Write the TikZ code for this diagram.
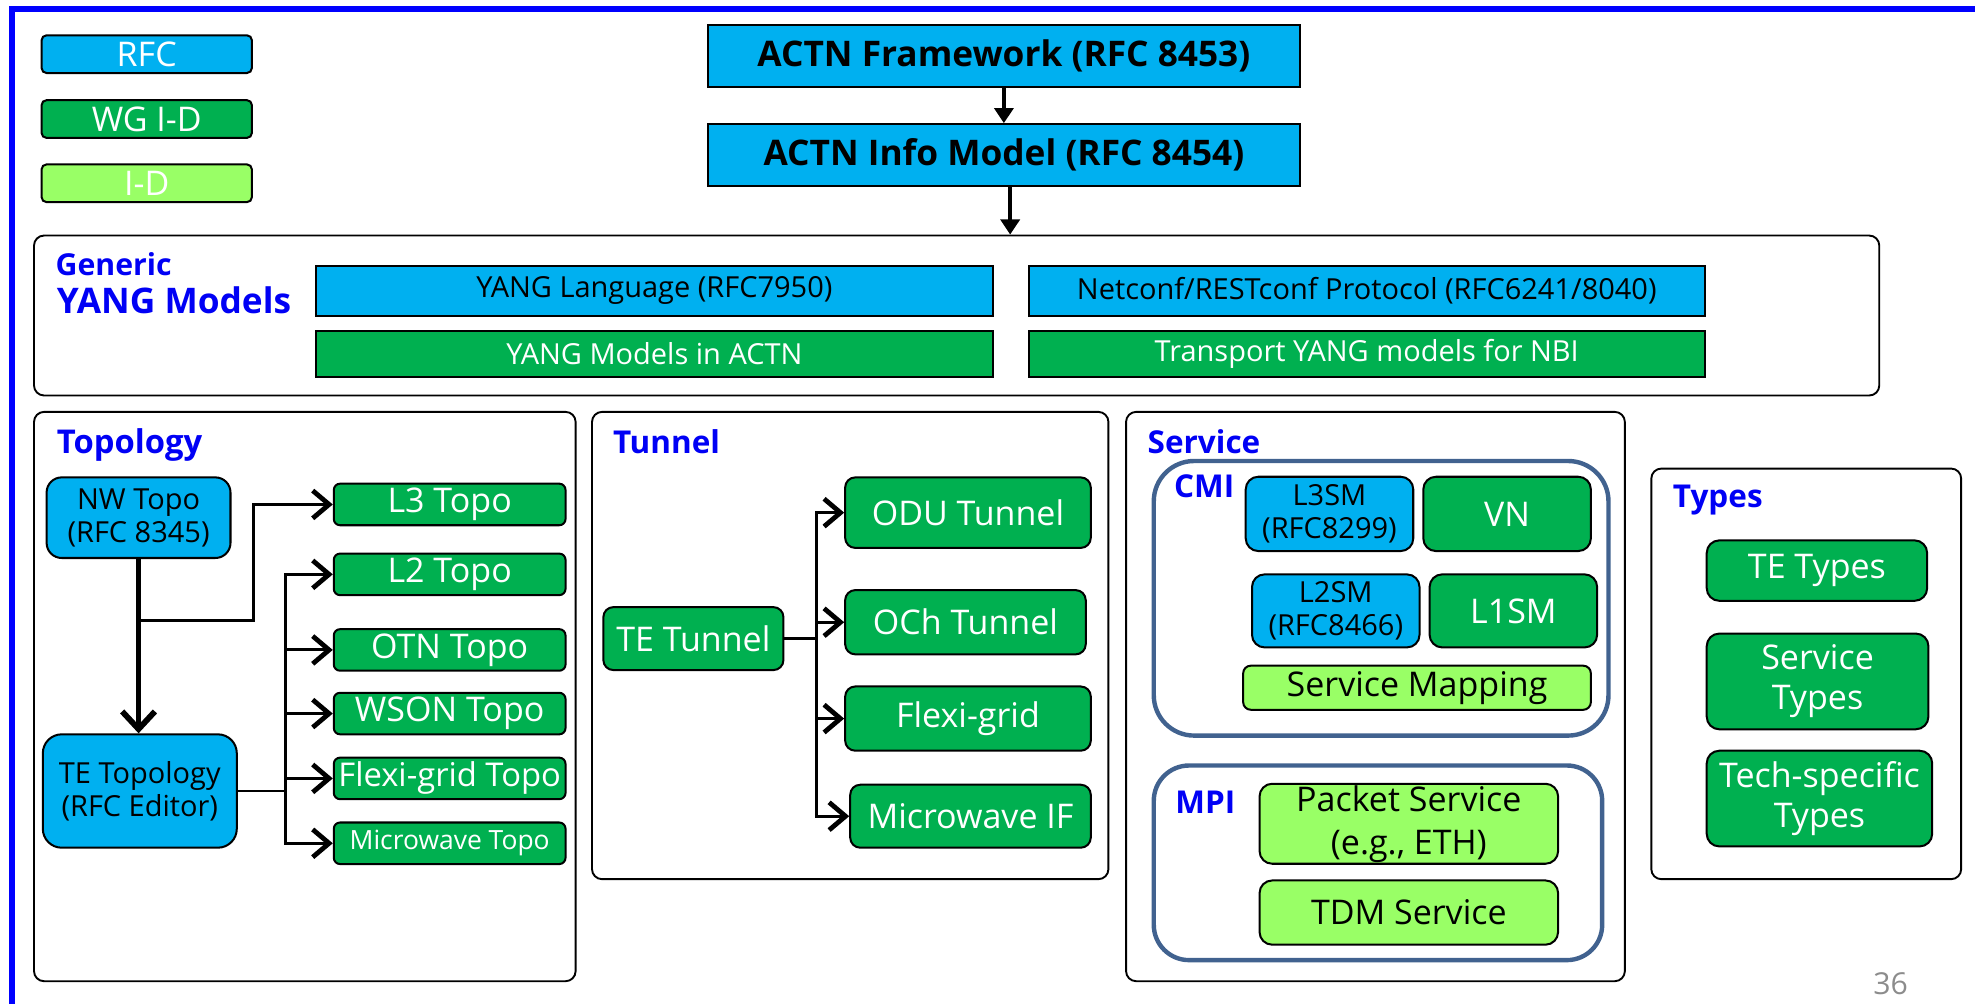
\documentclass[tikz,border=0pt]{standalone}
\usepackage{fontspec}
\setmainfont{Open Sans}
\usetikzlibrary{arrows.meta,positioning}
\definecolor{RFCblue}{RGB}{0,176,240}
\definecolor{WGgreen}{RGB}{0,176,80}
\definecolor{IDgreen}{RGB}{153,255,102}
\definecolor{Headblue}{RGB}{0,0,245}
\definecolor{Frameblue}{RGB}{0,0,255}
\definecolor{Ifblue}{RGB}{65,98,143}
\definecolor{Pagegrey}{RGB}{140,140,140}

\begin{document}
\begin{tikzpicture}[x=1pt, y=-1pt,
  every node/.style={inner sep=0pt, align=center, font=\fontsize{27}{32}\selectfont},
  b/.style={draw, line width=1.6pt, rounded corners=8pt},
  rfc/.style={b, fill=RFCblue},
  wg/.style={b, fill=WGgreen, text=white},
  idr/.style={b, fill=IDgreen},
  grp/.style={draw, line width=1.5pt, rounded corners=8pt},
  itf/.style={draw=Ifblue, line width=3.5pt, rounded corners=#1},
  hd/.style={anchor=base west, text=Headblue, font=\fontsize{25}{25}\selectfont\bfseries},
  sm/.style={font=\fontsize{23}{26}\selectfont},
  tp/.style={wg, rounded corners=5pt, minimum width=184, minimum height=33},
  ar/.style={line width=2.4pt, -{Straight Barb[length=13pt,width=22pt,line width=3.8pt]}},
  ]
\useasboundingbox (0,0) rectangle (1568,797);
\draw[Frameblue, line width=4.5pt] (9.7,800) -- (9.7,7.3) -- (1572,7.3);

% legend
\node[rfc, text=white, rounded corners=4pt, minimum width=167, minimum height=30] (lrfc) at (116.5,43) {RFC};
\node[wg, rounded corners=4pt, minimum width=167, minimum height=30] (lwg) at (116.5,94.5) {WG I-D};
\node[idr, text=white, rounded corners=4pt, minimum width=167, minimum height=30] (lid) at (116.5,145.5) {I-D};

% ACTN
\node[rfc, sharp corners, minimum width=470, minimum height=49, font=\fontsize{28}{28}\selectfont\bfseries] (fw) at (797,44.5) {ACTN Framework (RFC 8453)};
\node[rfc, sharp corners, minimum width=470, minimum height=49, font=\fontsize{28}{28}\selectfont\bfseries, below=28pt of fw] (im) {ACTN Info Model (RFC 8454)};

% generic YANG models
\node[grp, minimum width=1465, minimum height=127] (gen) at (759.5,250.5) {};
\node[hd, font=\fontsize{24}{24}\selectfont\bfseries] (lgen) at (44,219) {Generic};
\node[hd, font=\fontsize{28}{28}\selectfont\bfseries] (lyang) at (45,249) {YANG Models};
\node[rfc, sharp corners, sm, minimum width=537, minimum height=39.5] (yl) at (519.5,231) {YANG Language (RFC7950)};
\node[rfc, sharp corners, sm, minimum width=537, minimum height=39.5, right=27pt of yl] (nc) {Netconf/RESTconf Protocol (RFC6241/8040)};
\node[wg, sharp corners, sm, minimum width=537, minimum height=36] (ym) at (519.5,281) {YANG Models in ACTN};
\node[wg, sharp corners, sm, minimum width=537, minimum height=36, right=27pt of ym] (tr) {Transport YANG models for NBI};

\draw[line width=3.5pt, -{Triangle[length=12pt,width=15pt]}] (fw) -- (im);
\draw[line width=3.5pt, -{Triangle[length=12pt,width=15pt]}] ([xshift=5pt]im.south) -- ([xshift=5pt]im.south |- gen.north);

% topology
\node[grp, minimum width=430, minimum height=452] (topo) at (242,553) {};
\node[hd, font=\fontsize{26}{26}\selectfont\bfseries] (ltopo) at (45,360) {Topology};
\node[rfc, sm, rounded corners=12pt, minimum width=146, minimum height=64] (nw) at (110,411) {NW Topo\\(RFC 8345)};
\node[rfc, sm, rounded corners=15pt, minimum width=154, minimum height=90] (tet) at (111,628) {TE Topology\\(RFC Editor)};
\node[tp] (l3) at (357,400.5) {L3 Topo};
\node[tp] (l2) at (357,456) {L2 Topo};
\node[tp] (otn) at (357,516) {OTN Topo};
\node[tp] (wson) at (357,566.5) {WSON Topo};
\node[tp, font=\fontsize{26}{26}\selectfont] (flx) at (357,618) {Flexi-grid Topo};
\node[tp, font=\fontsize{21}{21}\selectfont] (mw) at (357,669.5) {Microwave Topo};

\coordinate (nwj) at (111,493);
\coordinate (tb1) at (201,493);
\coordinate (tb2) at (227,628);
\draw[line width=4pt, -{Straight Barb[length=14pt,width=26pt,line width=4.6pt]}] (nw.south) -- (nw.south |- tet.north);
\draw[ar] (nwj) -- (tb1) |- (l3);
\draw[line width=2.2pt] (tet) -- (tb2);
\draw[ar] (tb2) |- (l2);
\draw[ar] (tb2) |- (otn);
\draw[ar] (tb2) |- (wson);
\draw[ar] (tb2) |- (flx);
\draw[ar] (tb2) |- (mw);

% tunnel
\node[grp, minimum width=410, minimum height=371] (tun) at (675,512.5) {};
\node[hd] (ltun) at (486.5,360) {Tunnel};
\node[wg, minimum width=143, minimum height=50] (tt) at (550.5,507) {TE Tunnel};
\node[wg, minimum width=195, minimum height=56] (odu) at (768.5,407) {ODU Tunnel};
\node[wg, minimum width=191, minimum height=51] (och) at (766.5,494) {OCh Tunnel};
\node[wg, minimum width=195, minimum height=51] (flex) at (768.5,570.5) {Flexi-grid};
\node[wg, minimum width=191, minimum height=50] (mwif) at (770.5,648) {Microwave IF};

\coordinate (nb) at (648,507);
\draw[line width=2.2pt] (tt) -- (nb);
\draw[ar] (nb) |- (odu);
\draw[ar] (nb) |- (och);
\draw[ar] (nb) |- (flex);
\draw[ar] (nb) |- (mwif);

% service
\node[grp, minimum width=396, minimum height=452] (svc) at (1092,553) {};
\node[hd] (lsvc) at (911,360) {Service};
\node[itf=32pt, minimum width=361, minimum height=218] (cmi) at (1096.5,475) {};
\node[hd] (lcmi) at (932,394.7) {CMI};
\node[rfc, sm, rounded corners=10pt, minimum width=133, minimum height=59] (l3sm) at (1055.5,408) {L3SM\\(RFC8299)};
\node[wg, rounded corners=10pt, minimum width=133, minimum height=59] (vn) at (1196.5,408) {VN};
\node[rfc, sm, rounded corners=10pt, minimum width=133, minimum height=58] (l2sm) at (1060.5,485) {L2SM\\(RFC8466)};
\node[wg, rounded corners=10pt, minimum width=133, minimum height=58] (l1sm) at (1201.5,485) {L1SM};
\node[idr, rounded corners=6pt, minimum width=276, minimum height=35] (smap) at (1125,546) {Service Mapping};
\node[itf=28pt, minimum width=356, minimum height=154.5] (mpi) at (1094,685) {};
\node[hd] (lmpi) at (933,646) {MPI};
\node[idr, rounded corners=10pt, minimum width=237, minimum height=63.5, font=\fontsize{27}{34}\selectfont] (pkt) at (1118.5,654) {Packet Service\\(e.g., ETH)};
\node[idr, rounded corners=10pt, minimum width=237, minimum height=51] (tdm) at (1118.5,724.5) {TDM Service};

% types
\node[grp, minimum width=246, minimum height=326] (typ) at (1434,535) {};
\node[hd] (ltyp) at (1328,403) {Types};
\node[wg, rounded corners=10pt, minimum width=175, minimum height=48] (tety) at (1442.5,453) {TE Types};
\node[wg, rounded corners=10pt, minimum width=176, minimum height=76] (svty) at (1443,541) {Service\\Types};
\node[wg, rounded corners=10pt, minimum width=179, minimum height=76] (tsty) at (1444.5,634) {Tech-specific\\Types};

\node[text=Pagegrey, font=\fontsize{24}{24}\selectfont] (pg) at (1501,781) {36};
\end{tikzpicture}
\end{document}
